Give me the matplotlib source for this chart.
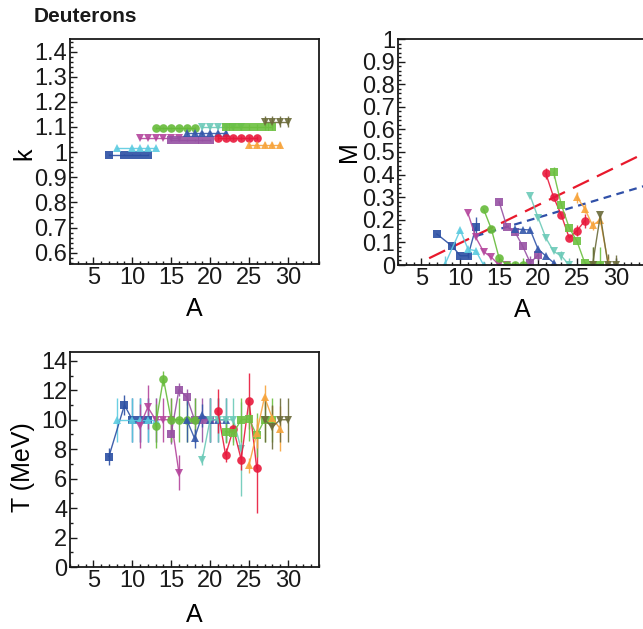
import matplotlib
matplotlib.use("Agg")
import matplotlib.pyplot as plt
from matplotlib.ticker import MultipleLocator, FuncFormatter

plt.rcParams['font.family'] = ['Liberation Sans', 'DejaVu Sans']

# series: mass numbers A, parameters k, M, T with errors
names = ['blue_sq', 'cyan_up', 'mag_dn', 'pur_sq', 'grn_ci', 'blu_up',
         'teal_dn', 'red_ci', 'grn_sq', 'org_up', 'olv_dn']
colors = ['#2b4fa3', '#5ccbe0', '#b4459c', '#9651a3', '#66bb3a', '#3457ab',
          '#6ccab8', '#e8193c', '#6cc040', '#f7a43c', '#6b6b3a']
markers = ['s', '^', 'v', 's', 'o', '^', 'v', 'o', 's', '^', 'v']

A_vals = [
    [7, 9, 10, 11, 12],
    [8, 10, 11, 12, 13],
    [11, 12, 13, 14, 15, 16],
    [15, 16, 17, 18, 19, 20],
    [13, 14, 15, 16, 17, 18],
    [17, 18, 19, 20, 21, 22],
    [19, 20, 21, 22, 23, 24],
    [21, 22, 23, 24, 25, 26],
    [22, 23, 24, 25, 26, 27, 28],
    [25, 26, 27, 28, 29],
    [27, 28, 29, 30],
]

k_vals = [
    [0.99] * 5,
    [1.015] * 5,
    [1.055] * 6,
    [1.05] * 6,
    [1.095] * 6,
    [1.075] * 6,
    [1.10] * 6,
    [1.055] * 6,
    [1.10] * 7,
    [1.03] * 5,
    [1.12] * 4,
]
k_err = [
    [0.003] * 5,
    [0.003] * 5,
    [0.004] * 6,
    [0.004] * 6,
    [0.004] * 6,
    [0.008] * 6,
    [0.008] * 6,
    [0.008] * 6,
    [0.012] * 7,
    [0.012] * 5,
    [0.022] * 4,
]

M_vals = [
    [0.137, 0.082, 0.041, 0.041, 0.166],
    [0.0, 0.154, 0.07, 0.063, 0.0],
    [0.228, 0.122, 0.059, 0.034, 0.0, 0.0],
    [0.279, 0.169, 0.148, 0.085, 0.01, 0.044],
    [0.247, 0.159, 0.03, 0.0, 0.0, 0.0],
    [0.16, 0.157, 0.155, 0.07, 0.04, 0.01],
    [0.305, 0.21, 0.12, 0.06, 0.04, 0.0],
    [0.405, 0.30, 0.22, 0.12, 0.152, 0.195],
    [0.41, 0.265, 0.165, 0.105, 0.01, 0.0, 0.0],
    [0.30, 0.25, 0.175, 0.20, 0.01],
    [0.0, 0.22, 0.0, 0.0],
]
M_err = [
    [0.0, 0.0, 0.0, 0.01, 0.045],
    [0.04, 0.0, 0.0, 0.0, 0.0],
    [0.0, 0.0, 0.0, 0.0, 0.0, 0.0],
    [0.0, 0.0, 0.0, 0.0, 0.03, 0.02],
    [0.0, 0.0, 0.0, 0.0, 0.0, 0.03],
    [0.0, 0.0, 0.0, 0.0, 0.0, 0.0],
    [0.0, 0.0, 0.0, 0.0, 0.02, 0.03],
    [0.025, 0.0, 0.0, 0.0, 0.025, 0.03],
    [0.025, 0.0, 0.0, 0.0, 0.0, 0.08, 0.08],
    [0.025, 0.02, 0.02, 0.02, 0.03],
    [0.08, 0.0, 0.05, 0.045],
]

T_vals = [
    [7.5, 11.0, 10.0, 10.0, 10.0],
    [10.0, 10.0, 10.0, 10.0, 10.0],
    [9.6, 10.85, 10.0, 10.0, 10.0, 6.4],
    [9.05, 12.05, 11.55, 10.0, 10.0, 10.0],
    [9.6, 12.8, 10.0, 10.0, 10.0, 10.0],
    [10.0, 8.75, 10.3, 10.0, 10.0, 10.0],
    [7.3, 10.0, 10.0, 10.0, 10.0, 8.0],
    [10.6, 7.6, 9.4, 7.3, 11.3, 6.7],
    [9.2, 9.1, 10.0, 10.05, 8.95, 10.0, 10.0],
    [6.9, 9.1, 11.55, 10.1, 9.4],
    [10.0, 9.5, 10.0, 10.0],
]
T_err = [
    [0.6, 0.7, 1.5, 1.5, 1.5],
    [1.5, 1.5, 1.5, 1.5, 1.5],
    [1.5, 1.5, 1.5, 1.5, 1.5, 1.2],
    [0.7, 0.45, 0.55, 1.5, 1.5, 1.5],
    [1.5, 0.5, 1.5, 1.5, 1.5, 1.5],
    [1.5, 0.65, 0.8, 1.5, 1.5, 1.5],
    [0.4, 1.5, 1.5, 1.5, 1.5, 3.2],
    [1.5, 0.45, 0.35, 0.7, 1.9, 3.0],
    [0.8, 0.8, 1.5, 1.5, 1.5, 1.5, 1.5],
    [0.5, 1.0, 0.8, 0.8, 1.5],
    [1.5, 1.5, 1.5, 1.5],
]

# linear trend lines in the M panel
fit_red_A = [6, 34]
fit_red_M = [0.03, 0.50]
fit_blue_A = [12, 34]
fit_blue_M = [0.128, 0.353]

fig = plt.figure(figsize=(6.43, 6.29), dpi=100)
W, H = 643, 629


def box(left, top, right, bottom):
    return [left / W, (H - bottom) / H, (right - left) / W, (bottom - top) / H]


ax_k = fig.add_axes(box(70, 39, 319, 264))
ax_m = fig.add_axes(box(398, 39, 647, 265))
ax_t = fig.add_axes(box(70, 352, 319, 567))

fs = 17


def style(ax, ymajor, yminor, xpad):
    ax.set_xlim(2, 34)
    ax.xaxis.set_major_locator(MultipleLocator(5))
    ax.xaxis.set_minor_locator(MultipleLocator(1))
    ax.yaxis.set_major_locator(MultipleLocator(ymajor))
    ax.yaxis.set_minor_locator(MultipleLocator(yminor))
    ax.yaxis.set_major_formatter(FuncFormatter(lambda v, p: '%g' % round(v, 3)))
    ax.tick_params(which='both', direction='in', top=False, right=False,
                   labelsize=fs, pad=2, width=1.0, colors='#1a1a1a')
    ax.tick_params(which='major', length=5)
    ax.tick_params(which='minor', length=2.5)
    for s in ax.spines.values():
        s.set_linewidth(1.3)
        s.set_color('#1a1a1a')
    ax.set_xlabel('A', fontsize=fs + 1, labelpad=xpad)


def draw(ax, yv, ye):
    for i in range(len(names)):
        ax.errorbar(A_vals[i], yv[i], yerr=ye[i], color=colors[i], marker=markers[i],
                    markersize=6.2, lw=1.0, elinewidth=1.0, capsize=1.8,
                    alpha=0.9, markeredgewidth=0)


draw(ax_k, k_vals, k_err)
style(ax_k, 0.1, 0.02, 6)
ax_k.set_ylim(0.555, 1.45)
ax_k.set_ylabel('k', fontsize=fs + 1)
ax_k.yaxis.set_label_coords(-0.135, 0.49)

draw(ax_m, M_vals, M_err)
ax_m.plot(fit_red_A, fit_red_M, color='#e8192c', lw=1.6, dashes=(8, 4))
ax_m.plot(fit_blue_A, fit_blue_M, color='#3050a8', lw=1.6, dashes=(3.5, 2.5))
style(ax_m, 0.1, 0.02, 6)
ax_m.set_ylim(0, 1)
ax_m.set_ylabel('M', fontsize=fs + 1)
ax_m.yaxis.set_label_coords(-0.15, 0.5)

draw(ax_t, T_vals, T_err)
style(ax_t, 2, 1, 8)
ax_t.set_ylim(0, 14.6)
ax_t.set_ylabel('T (MeV)', fontsize=fs + 1)
ax_t.yaxis.set_label_coords(-0.14, 0.465)

fig.text(34 / W, 1 - 17 / H, 'Deuterons', fontsize=15, fontweight='bold',
         va='center', ha='left', color='#1a1a1a')

fig.savefig('out.png', dpi=100)
